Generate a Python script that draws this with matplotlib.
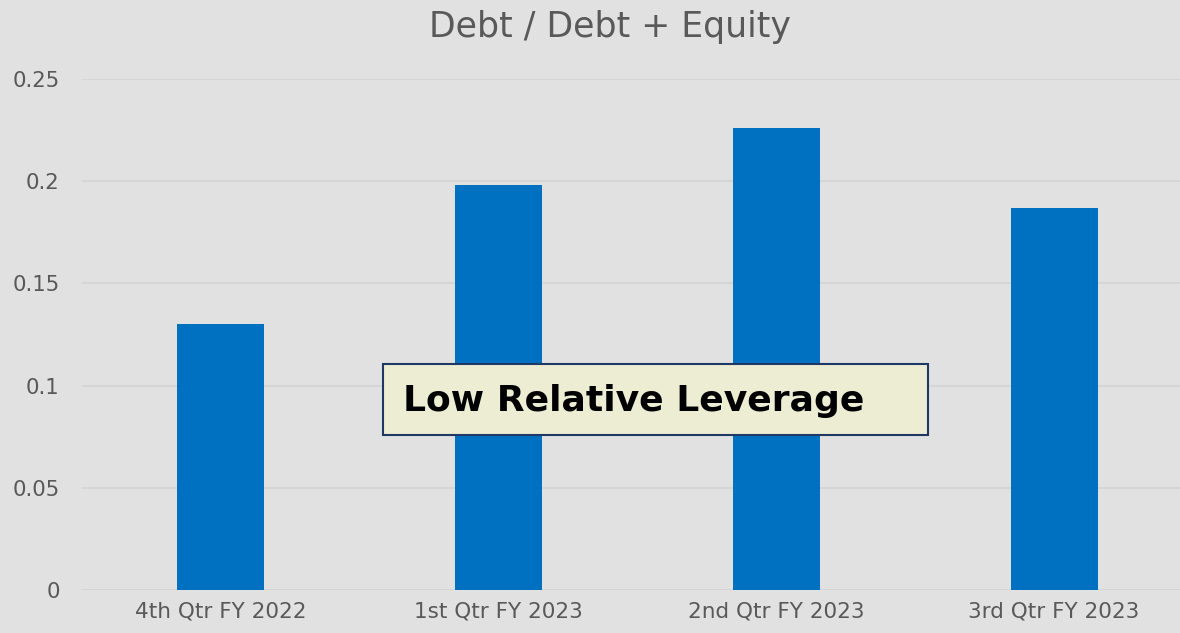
import matplotlib
matplotlib.use('Agg')
import matplotlib.pyplot as plt
from matplotlib.patches import Rectangle

quarters = ['4th Qtr FY 2022', '1st Qtr FY 2023', '2nd Qtr FY 2023', '3rd Qtr FY 2023']
ratio = [0.130, 0.198, 0.226, 0.187]
yticks = [0, 0.05, 0.1, 0.15, 0.2, 0.25]
ytick_labels = ['0', '0.05', '0.1', '0.15', '0.2', '0.25']

bg = '#e1e1e1'
grey_text = '#595959'

matplotlib.rcParams.update({'font.family': 'DejaVu Sans'})
fig = plt.figure(figsize=(11.8, 6.33), dpi=100, facecolor=bg)
# axes run slightly past the right edge, like the original slide crop
ax = fig.add_axes([82 / 1180, 43 / 633, (1193 - 82) / 1180, 511 / 633])
ax.set_facecolor(bg)

x = range(len(quarters))
ax.bar(x, ratio, width=0.313, color='#0070c0', zorder=3)
ax.set_xlim(-0.5, 3.5)
ax.set_ylim(0, 0.25)
ax.set_yticks(yticks)
ax.set_yticklabels(ytick_labels)
ax.set_xticks(list(x))
ax.set_xticklabels(quarters)
ax.grid(axis='y', color='#d3d3d3', linewidth=1.2, zorder=0)
for s in ax.spines.values():
    s.set_visible(False)
ax.tick_params(axis='y', length=0, pad=16, labelsize=15.3, labelcolor=grey_text)
ax.tick_params(axis='x', length=0, pad=8, labelsize=15.5, labelcolor=grey_text)

fig.text(610 / 1180, 1 - 27 / 633, 'Debt / Debt + Equity', ha='center', va='center',
         fontsize=25, color=grey_text)

# callout box
fig.patches.append(Rectangle((383 / 1180, 1 - 435 / 633), (928 - 383) / 1180, (435 - 364) / 633,
                             transform=fig.transFigure, facecolor='#ededd3',
                             edgecolor='#1f3864', linewidth=1.5, zorder=5))
fig.text(403 / 1180, 1 - 401 / 633, 'Low Relative Leverage', ha='left', va='center',
         fontsize=26, fontweight='bold', color='black', zorder=6)

fig.savefig('out.png', dpi=100, facecolor=bg)
